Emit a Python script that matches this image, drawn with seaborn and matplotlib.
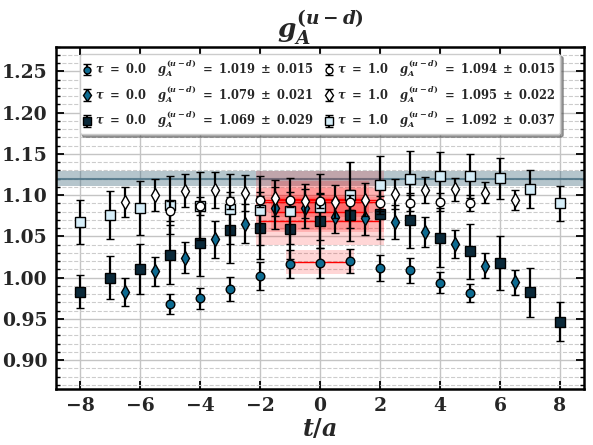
import seaborn as sns
import matplotlib.pyplot as plt
from matplotlib.ticker import MultipleLocator

# time slices
t_circ = [-5, -4, -3, -2, -1, 0, 1, 2, 3, 4, 5]
t_diam = [-6.5, -5.5, -4.5, -3.5, -2.5, -1.5, -0.5, 0.5, 1.5, 2.5, 3.5, 4.5, 5.5, 6.5]
t_sq = [-8, -7, -6, -5, -4, -3, -2, -1, 0, 1, 2, 3, 4, 5, 6, 7, 8]

# tau = 0.0
circ0 = [0.968, 0.975, 0.986, 1.002, 1.016, 1.018, 1.020, 1.012, 1.009, 0.994, 0.981]
circ0_err = [0.0126, 0.013, 0.0146, 0.0167, 0.017, 0.018, 0.015, 0.0157, 0.015, 0.0126, 0.011]
diam0 = [0.9826, 1.0077, 1.024, 1.0463, 1.0655, 1.0845, 1.0840, 1.0740, 1.0725, 1.0675,
         1.0552, 1.041, 1.0146, 0.9943]
diam0_err = [0.0173, 0.0177, 0.019, 0.0228, 0.0234, 0.025, 0.024, 0.0203, 0.0203, 0.0203,
             0.018, 0.017, 0.015, 0.015]
sq0 = [0.983, 1.000, 1.0106, 1.028, 1.0418, 1.0573, 1.0606, 1.0585, 1.0687, 1.0756, 1.0777,
       1.0695, 1.0484, 1.032, 1.018, 0.982, 0.9467]
sq0_err = [0.020, 0.026, 0.030, 0.036, 0.040, 0.040, 0.0386, 0.036, 0.033, 0.031, 0.031,
           0.033, 0.036, 0.0335, 0.033, 0.030, 0.024]

# tau = 1.0
circ1 = [1.0805, 1.0866, 1.0935, 1.0945, 1.0947, 1.0935, 1.0915, 1.090, 1.0906, 1.0918, 1.0906]
circ1_err = [0.012, 0.011, 0.010, 0.009, 0.009, 0.009, 0.009, 0.009, 0.010, 0.011, 0.010]
diam1 = [1.0918, 1.100, 1.1052, 1.106, 1.1030, 1.0967, 1.0927, 1.0918, 1.0947, 1.1015,
         1.106, 1.107, 1.1028, 1.0939]
diam1_err = [0.0185, 0.019, 0.020, 0.022, 0.022, 0.022, 0.021, 0.020, 0.020, 0.018,
             0.016, 0.014, 0.0128, 0.012]
sq1 = [1.0675, 1.0764, 1.0845, 1.0878, 1.0866, 1.0832, 1.0817, 1.0807, 1.0860, 1.1005, 1.1122,
       1.1200, 1.1232, 1.1232, 1.1203, 1.1073, 1.0899]
sq1_err = [0.0268, 0.029, 0.033, 0.035, 0.041, 0.042, 0.042, 0.04, 0.04, 0.04, 0.035,
           0.033, 0.029, 0.027, 0.0248, 0.0234, 0.0218]

# plateau fits: value, error, fit range
fit_val = [1.019, 1.079, 1.069, 1.094, 1.095, 1.092]
fit_err = [0.015, 0.021, 0.029, 0.015, 0.022, 0.037]
fit_lo = [-1, -1.5, -2, -2, -1.5, -2]
fit_hi = [1, 1.5, 2, 2, 1.5, 2]
tau_lab = ['0.0', '0.0', '0.0', '1.0', '1.0', '1.0']

# reference band
ref_val = 1.12
ref_err = 0.0095

sns.set_theme(style='whitegrid')
plt.rcParams['font.family'] = ['DejaVu Serif']
plt.rcParams['font.weight'] = 'bold'
plt.rcParams['mathtext.fontset'] = 'custom'
plt.rcParams['mathtext.rm'] = 'DejaVu Serif:bold'
plt.rcParams['mathtext.bf'] = 'DejaVu Serif:bold'
plt.rcParams['mathtext.it'] = 'DejaVu Serif:italic:bold'

fig = plt.figure(figsize=(5.93, 4.45), dpi=100)
ax = fig.add_axes([0.0944, 0.126, 0.8904, 0.769])

blue = '#0d6b91'
navy = '#0a2838'
pale = '#d6eef9'
band_c = '#4f7587'

ax.axhspan(ref_val - ref_err, ref_val + ref_err, color=band_c, alpha=0.42, lw=0, zorder=1)
ax.axhline(ref_val, color=band_c, lw=1.5, alpha=0.85, zorder=1)

for v, e, lo, hi in zip(fit_val, fit_err, fit_lo, fit_hi):
    ax.fill_between([lo - 0.12, hi + 0.12], v - e, v + e, color='red', alpha=0.16, lw=0, zorder=2)
    sns.lineplot(x=[lo, hi], y=[v, v], color='red', lw=1.0, ax=ax, zorder=2)

series = [
    (t_circ, circ0, circ0_err, 'o', blue, 6.2),
    (t_diam, diam0, diam0_err, 'd', blue, 7.5),
    (t_sq, sq0, sq0_err, 's', navy, 6.5),
    (t_circ, circ1, circ1_err, 'o', 'white', 6.2),
    (t_diam, diam1, diam1_err, 'd', 'white', 7.5),
    (t_sq, sq1, sq1_err, 's', pale, 6.5),
]
zorders = [5, 5, 5, 6, 6, 5.5]

handles = []
labels = []
for i, (t, y, e, m, c, ms) in enumerate(series):
    h = ax.errorbar(t, y, yerr=e, fmt=m, color='black', mfc=c, mec='black', mew=1.0, ms=ms,
                    elinewidth=1.6, capsize=3, capthick=1.6, zorder=zorders[i])
    handles.append(h)
    labels.append(r'$\tau\ =\ %s\quad g_A^{(u-d)}\ =\ %.3f\ \pm\ %.3f$' % (tau_lab[i], fit_val[i], fit_err[i]))

ax.legend(handles, labels, ncol=2, loc='upper center', fontsize=8.3, handlelength=0.6,
          handletextpad=0.4, columnspacing=1.0, labelspacing=0.35, borderpad=0.35,
          markerscale=0.8, borderaxespad=0.6,
          frameon=True, fancybox=True, shadow=True, framealpha=1, edgecolor='#cccccc')

ax.set_xlim(-8.8, 8.8)
ax.set_ylim(0.865, 1.28)
ax.xaxis.set_major_locator(MultipleLocator(2))
ax.yaxis.set_major_locator(MultipleLocator(0.05))
ax.yaxis.set_minor_locator(MultipleLocator(0.01))
ax.grid(which='major', color='#c4c4c4', lw=1.0, ls='-')
ax.grid(which='minor', axis='y', color='#cccccc', lw=0.8, ls='--')
ax.set_axisbelow(True)

for s in ax.spines.values():
    s.set_color('black')
    s.set_linewidth(1.8)
ax.tick_params(which='both', direction='in', top=True, right=True, bottom=True, left=True,
               color='black', labelsize=13.5, pad=6)
ax.tick_params(which='major', length=6, width=1.3)
ax.tick_params(which='minor', length=3, width=1.0)

ax.set_xlabel(r'$t/a$', fontsize=17, labelpad=1)
ax.set_title(r'$g_A^{(u-d)}$', fontsize=19, pad=5)

fig.savefig('out.png', dpi=100)
